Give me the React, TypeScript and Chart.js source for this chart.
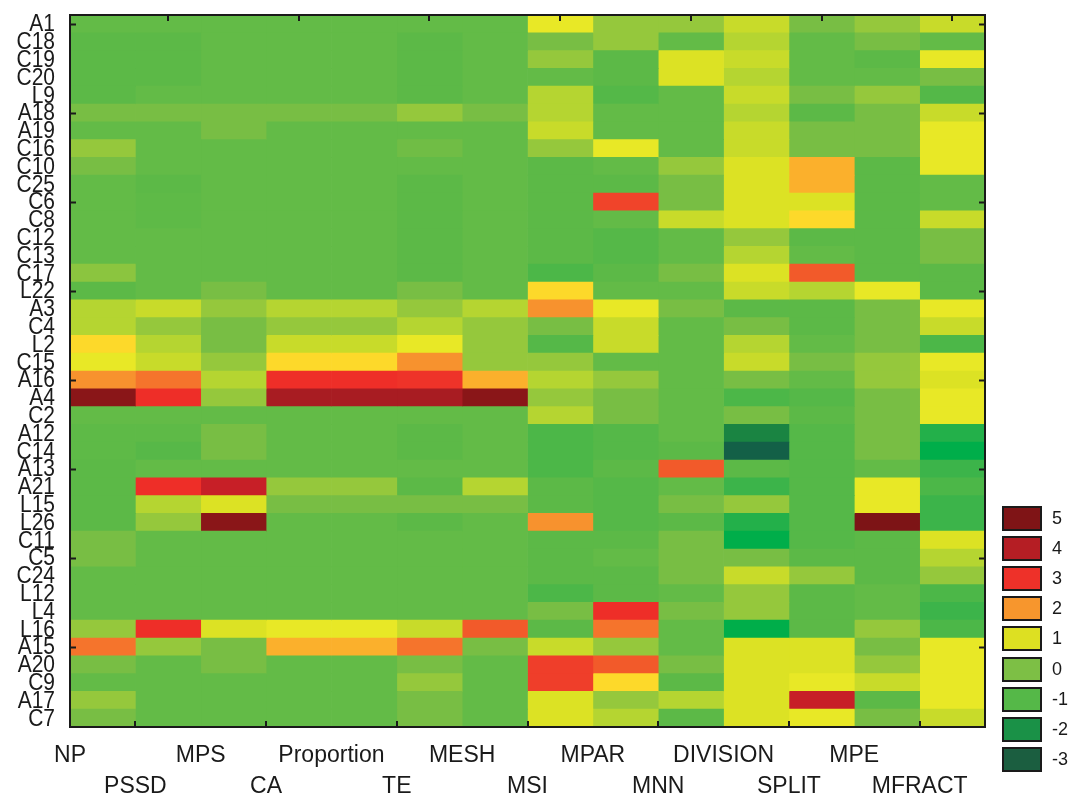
import React, { useEffect, useRef } from "react";
import { Chart, registerables } from "chart.js";

Chart.register(...registerables);

const ROWS = [
  "A1", "C18", "C19", "C20", "L9", "A18", "A19", "C16", "C10", "C25",
  "C6", "C8", "C12", "C13", "C17", "L22", "A3", "C4", "L2", "C15",
  "A16", "A4", "C2", "A12", "C14", "A13", "A21", "L15", "L26", "C11",
  "C5", "C24", "L12", "L4", "L16", "A15", "A20", "C9", "A17", "C7",
];

const COLUMNS = [
  "NP", "PSSD", "MPS", "CA", "Proportion", "TE", "MESH",
  "MSI", "MPAR", "MNN", "DIVISION", "SPLIT", "MPE", "MFRACT",
];

const NP = [
  -0.5, -0.65, -0.65, -0.65, -0.65, 0, -0.5, 0.3, 0, -0.5,
  -0.5, -0.5, -0.5, -0.5, 0.2, -0.65, 0.6, 0.6, 1.35, 1.1,
  2.0, 4.9, -0.5, -0.6, -0.6, -0.65, -0.65, -0.65, -0.65, 0,
  0, -0.5, -0.5, -0.5, 0.3, 2.4, 0, -0.5, 0.3, 0,
];
const PSSD = [
  -0.5, -0.65, -0.65, -0.65, -0.5, 0, -0.5, -0.5, -0.5, -0.65,
  -0.6, -0.6, -0.5, -0.5, -0.5, -0.5, 0.8, 0.3, 0.6, 0.8,
  2.4, 3.0, -0.5, -0.6, -0.75, -0.5, 3.0, 0.6, 0.3, -0.5,
  -0.5, -0.5, -0.5, -0.5, 3.0, 0.3, -0.5, -0.5, -0.5, -0.5,
];
const MPS = [
  -0.5, -0.5, -0.5, -0.5, -0.5, 0, 0, -0.5, -0.5, -0.5,
  -0.5, -0.5, -0.5, -0.5, -0.5, 0, 0.3, 0, 0, 0.3,
  0.6, 0.3, -0.5, 0, 0, -0.5, 3.7, 1.0, 4.9, -0.5,
  -0.5, -0.5, -0.5, -0.5, 1.0, 0, 0, -0.5, -0.5, -0.5,
];
const CA = [
  -0.5, -0.5, -0.5, -0.5, -0.5, 0, -0.5, -0.5, -0.5, -0.5,
  -0.5, -0.5, -0.5, -0.5, -0.5, -0.5, 0.6, 0.3, 0.8, 1.35,
  3.0, 4.35, -0.5, -0.5, -0.5, -0.5, 0.3, 0, -0.5, -0.5,
  -0.5, -0.5, -0.5, -0.5, 1.1, 1.7, -0.5, -0.5, -0.5, -0.5,
];
const PROPORTION = [
  -0.5, -0.5, -0.5, -0.5, -0.5, 0, -0.5, -0.5, -0.5, -0.5,
  -0.5, -0.5, -0.5, -0.5, -0.5, -0.5, 0.6, 0.3, 0.8, 1.35,
  3.0, 4.35, -0.5, -0.5, -0.5, -0.5, 0.3, 0, -0.5, -0.5,
  -0.5, -0.5, -0.5, -0.5, 1.1, 1.7, -0.5, -0.5, -0.5, -0.5,
];
const TE = [
  -0.5, -0.65, -0.65, -0.65, -0.65, 0.3, -0.5, -0.2, -0.5, -0.65,
  -0.65, -0.65, -0.65, -0.65, -0.65, 0, 0.3, 0.6, 1.1, 2.0,
  2.95, 4.35, -0.5, -0.65, -0.65, -0.5, -0.65, 0, -0.65, -0.5,
  -0.5, -0.5, -0.5, -0.5, 0.8, 2.4, 0, 0.3, 0, 0,
];
const MESH = [
  -0.5, -0.5, -0.5, -0.5, -0.5, 0, -0.5, -0.5, -0.5, -0.5,
  -0.5, -0.5, -0.5, -0.5, -0.5, -0.5, 0.6, 0.3, 0.3, 0.3,
  1.7, 4.9, -0.5, -0.5, -0.5, -0.5, 0.6, 0, -0.5, -0.5,
  -0.5, -0.5, -0.5, -0.5, 2.6, 0, -0.5, -0.5, -0.5, -0.5,
];
const MSI = [
  1.1, 0, 0.3, -0.5, 0.6, 0.6, 0.8, 0.3, -0.65, -0.65,
  -0.65, -0.65, -0.65, -0.65, -1.1, 1.35, 2.0, 0, -0.8, 0.3,
  0.6, 0.3, 0.6, -1.1, -1.1, -1.1, -0.65, -0.65, 2.0, -0.65,
  -0.65, -0.65, -1.1, 0, -0.65, 0.8, 2.85, 2.85, 1.0, 1.0,
];
const MPAR = [
  0.3, 0.3, -0.65, -0.65, -0.85, -0.5, -0.5, 1.1, -0.5, -0.65,
  2.8, -0.5, -0.8, -0.8, -0.65, -0.5, 1.1, 0.8, 0.8, -0.5,
  0.3, 0, 0, -0.8, -0.8, -0.65, -0.8, -0.8, -0.8, -0.65,
  -0.5, -0.65, -0.65, 3.0, 2.4, 0.3, 2.6, 1.35, 0.3, 0.6,
];
const MNN = [
  0.3, -0.5, 1.0, 1.0, -0.5, -0.5, -0.5, -0.5, 0.3, 0,
  0, 0.8, -0.5, -0.5, 0, -0.5, 0, -0.5, -0.5, -0.5,
  -0.5, -0.5, -0.5, -0.5, -0.65, 2.6, -0.5, 0, -0.65, 0,
  0, 0, -0.5, 0, -0.5, -0.5, 0, -0.65, 0.6, -0.65,
];
const DIVISION = [
  0.8, 0.6, 0.8, 0.6, 0.8, 0.6, 0.8, 0.8, 1.0, 1.0,
  1.0, 1.0, 0.3, 0.6, 1.0, 0.8, -0.65, 0, 0.6, 0.8,
  0, -1.1, 0, -2.5, -3.0, -0.65, -1.3, 0.3, -1.6, -2.0,
  0, 0.8, 0.3, 0.3, -2.0, 1.0, 1.0, 1.0, 1.0, 1.0,
];
const SPLIT = [
  0, -0.5, -0.5, -0.5, 0, -0.65, 0, 0, 1.7, 1.7,
  1.0, 1.35, -0.65, -0.5, 2.6, 0.6, -0.65, -0.65, -0.5, 0,
  -0.5, -0.8, -0.65, -0.8, -0.8, -0.8, -0.8, -0.8, -0.8, -0.8,
  -0.65, 0.3, -0.65, -0.65, -0.65, 1.0, 1.0, 1.1, 3.7, 1.1,
];
const MPE = [
  0.3, 0, -0.65, -0.5, 0.3, 0, 0, 0, -0.65, -0.65,
  -0.65, -0.65, -0.65, -0.65, -0.65, 1.1, 0, 0, 0, 0.3,
  0.3, 0, 0, 0, 0, -0.5, 1.1, 1.1, 5.0, -0.65,
  -0.65, -0.65, -0.5, -0.5, 0.3, 0, 0.3, 0.8, -0.65, 0,
];
const MFRACT = [
  0.8, -0.5, 1.1, 0, -0.85, 0.8, 1.1, 1.1, 1.1, -0.5,
  -0.5, 0.8, 0, 0, -0.65, -0.65, 1.1, 0.8, -1.1, 1.1,
  1.0, 1.1, 1.1, -1.6, -2.0, -1.3, -1.1, -1.3, -1.3, 1.0,
  0.6, 0.3, -1.1, -1.3, -1.1, 1.1, 1.1, 1.1, 1.1, 0.8,
];

const VALUES = [NP, PSSD, MPS, CA, PROPORTION, TE, MESH, MSI, MPAR, MNN, DIVISION, SPLIT, MPE, MFRACT];

const LEGEND_VALUES = [5, 4, 3, 2, 1, 0, -1, -2, -3];
const LEGEND_COLORS = ["#7f1416", "#b51e24", "#ee3129", "#f7962d", "#dde022", "#7dbf45", "#55b848", "#1a9147", "#1b5e40"];

// colour scale (value -> rgb), sampled from the reference palette
const COLOR_STOPS: [number, number[]][] = [
  [-3.0, [19, 96, 71]],
  [-2.5, [26, 132, 66]],
  [-2.0, [0, 174, 74]],
  [-1.6, [35, 176, 74]],
  [-1.3, [60, 180, 74]],
  [-1.1, [76, 183, 72]],
  [-0.8, [85, 184, 72]],
  [-0.65, [92, 185, 71]],
  [-0.5, [99, 187, 71]],
  [0.0, [120, 190, 68]],
  [0.3, [149, 200, 60]],
  [0.6, [181, 213, 49]],
  [0.8, [200, 219, 42]],
  [1.0, [220, 226, 36]],
  [1.1, [232, 232, 38]],
  [1.35, [253, 217, 42]],
  [1.7, [251, 176, 44]],
  [2.0, [247, 146, 46]],
  [2.4, [245, 116, 44]],
  [2.6, [242, 90, 42]],
  [2.85, [239, 62, 42]],
  [3.0, [238, 46, 40]],
  [3.7, [199, 31, 39]],
  [4.35, [168, 28, 34]],
  [4.9, [138, 22, 24]],
  [5.0, [125, 20, 22]],
];

function colorFor(v: number): string {
  const s = COLOR_STOPS;
  if (v <= s[0][0]) return `rgb(${s[0][1].join(",")})`;
  for (let i = 1; i < s.length; i++) {
    if (v <= s[i][0]) {
      const [v0, c0] = s[i - 1];
      const [v1, c1] = s[i];
      const t = (v - v0) / (v1 - v0);
      const c = c0.map((a, k) => Math.round(a + (c1[k] - a) * t));
      return `rgb(${c.join(",")})`;
    }
  }
  return `rgb(${s[s.length - 1][1].join(",")})`;
}

const decorPlugin = {
  id: "decor",
  afterDraw(chart: any) {
    const { ctx, chartArea: a, scales } = chart;
    const x = scales.x;
    const y = scales.y;
    ctx.save();
    ctx.strokeStyle = "#1a1a1a";
    ctx.lineWidth = 2;
    ctx.strokeRect(a.left, a.top, a.right - a.left, a.bottom - a.top);

    ctx.beginPath();
    for (let r = 0; r < ROWS.length; r += 5) {
      const py = Math.round(y.getPixelForValue(r)) + 0.5;
      ctx.moveTo(a.left, py);
      ctx.lineTo(a.left + 6, py);
      ctx.moveTo(a.right - 6, py);
      ctx.lineTo(a.right, py);
    }
    for (let c = 1; c < COLUMNS.length; c += 2) {
      const pt = Math.round(x.getPixelForValue(c + 0.5));
      ctx.moveTo(pt, a.top);
      ctx.lineTo(pt, a.top + 6);
      const pb = Math.round(x.getPixelForValue(c));
      ctx.moveTo(pb, a.bottom - 6);
      ctx.lineTo(pb, a.bottom);
    }
    ctx.stroke();

    // row labels
    ctx.fillStyle = "#1a1a1a";
    ctx.font = '21px "Liberation Sans", Arial, sans-serif';
    ctx.textAlign = "right";
    ctx.textBaseline = "middle";
    ROWS.forEach((lab, r) => {
      const py = y.getPixelForValue(r);
      ctx.save();
      ctx.translate(a.left - 15, py + 1);
      ctx.scale(1, 1.12);
      ctx.fillText(lab, 0, 0);
      ctx.restore();
    });

    // column labels (staggered)
    ctx.font = '23px "Liberation Sans", Arial, sans-serif';
    ctx.textAlign = "center";
    ctx.textBaseline = "alphabetic";
    COLUMNS.forEach((lab, c) => {
      const px = x.getPixelForValue(c);
      ctx.fillText(lab, px, c % 2 === 0 ? a.bottom + 35 : a.bottom + 66);
    });

    // legend
    const lx = 1003;
    const ly = 507;
    const step = 30.1;
    ctx.font = '18px "Liberation Sans", Arial, sans-serif';
    ctx.textAlign = "left";
    ctx.textBaseline = "middle";
    LEGEND_VALUES.forEach((v, i) => {
      const top = Math.round(ly + i * step);
      ctx.fillStyle = LEGEND_COLORS[i];
      ctx.fillRect(lx, top, 38, 23);
      ctx.strokeStyle = "#1a1a1a";
      ctx.lineWidth = 2;
      ctx.strokeRect(lx, top, 38, 23);
      ctx.fillStyle = "#1a1a1a";
      ctx.fillText(String(v), lx + 49, top + 12);
    });
    ctx.restore();
  },
};

export default function App() {
  const ref = useRef<HTMLCanvasElement | null>(null);
  useEffect(() => {
    if (!ref.current) return;
    const datasets = COLUMNS.map((name, c) => ({
      label: name,
      data: ROWS.map(() => [c, c + 1]),
      backgroundColor: VALUES[c].map(colorFor),
      borderWidth: 0,
      grouped: false,
      categoryPercentage: 1,
      barPercentage: 1,
    }));
    const chart = new Chart(ref.current, {
      type: "bar",
      data: { labels: ROWS, datasets: datasets as any },
      options: {
        indexAxis: "y",
        animation: false,
        responsive: false,
        devicePixelRatio: 1,
        layout: { padding: { left: 70, top: 15, right: 90, bottom: 70 } },
        plugins: { legend: { display: false }, tooltip: { enabled: false } },
        scales: {
          x: { type: "linear", min: 0, max: COLUMNS.length, display: false },
          y: { type: "category", display: false, offset: true },
        },
      },
      plugins: [decorPlugin],
    });
    return () => chart.destroy();
  }, []);
  return (
    <div style={{ position: "fixed", left: 0, top: 0, width: 1075, height: 797, background: "#fff" }}>
      <canvas ref={ref} width={1075} height={797} style={{ width: 1075, height: 797 }} />
    </div>
  );
}
